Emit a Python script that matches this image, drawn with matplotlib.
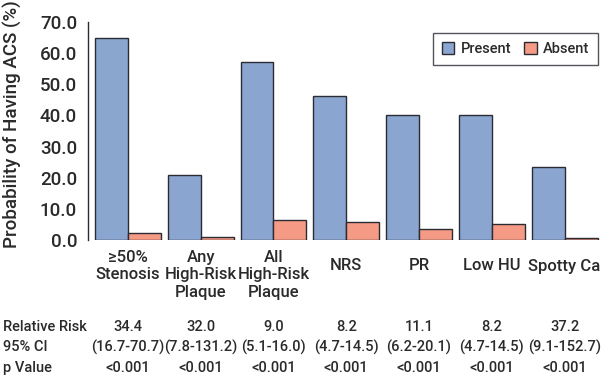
import matplotlib
matplotlib.use("Agg")
import matplotlib.pyplot as plt
import matplotlib.transforms as mtransforms
import numpy as np

plt.rcParams['font.family'] = ['Roboto', 'DejaVu Sans']
plt.rcParams['font.weight'] = 500

categories = ["≥50%\nStenosis", "Any\nHigh-Risk\nPlaque", "All\nHigh-Risk\nPlaque",
              "NRS", "PR", "Low HU", "Spotty Ca"]
present = [64.8, 21.0, 57.3, 46.3, 40.2, 40.2, 23.4]
absent = [2.3, 1.0, 6.3, 5.8, 3.6, 5.0, 0.7]
relative_risk = ["34.4", "32.0", "9.0", "8.2", "11.1", "8.2", "37.2"]
ci95 = ["(16.7-70.7)", "(7.8-131.2)", "(5.1-16.0)", "(4.7-14.5)",
        "(6.2-20.1)", "(4.7-14.5)", "(9.1-152.7)"]
p_values = ["<0.001"] * 7
yticks = [0, 10, 20, 30, 40, 50, 60, 70]

blue = "#8AA5D0"
salmon = "#F59A84"
edge = "#2b2b33"
textc = "#2a2a2a"

fig = plt.figure(figsize=(6.11, 3.81), dpi=100)
ax = fig.add_axes([91/611, 1-240/381, (600-91)/611, (240-22)/381])

x = np.arange(len(categories))
w = 0.453
ax.bar(x - w/2, present, width=w, color=blue, edgecolor=edge, linewidth=1.0, label="Present")
ax.bar(x + w/2, absent, width=w, color=salmon, edgecolor=edge, linewidth=1.0, label="Absent")

ax.set_xlim(-0.508, 6.487)
ax.set_ylim(0, 70)
ax.set_yticks(yticks)
ax.set_yticklabels([f"{v:.1f}" for v in yticks])
ax.tick_params(axis='y', length=0, pad=8, labelsize=13.5, labelcolor=textc)
ax.set_xticks([])
for s in ["top", "right", "bottom"]:
    ax.spines[s].set_visible(False)
ax.spines["left"].set_color(edge)
ax.spines["left"].set_linewidth(1.0)
ax.spines["left"].set_position(("outward", 2))

fig.text(12/611, 1-124/381, "Probability of Having ACS (%)", rotation=90,
         fontsize=13.5, color=textc, ha='center', va='center')

leg = ax.legend(loc='upper right', bbox_to_anchor=(0.997, 0.948), ncol=2, fontsize=10.5,
                frameon=True, fancybox=False, edgecolor=edge, handlelength=0.85,
                handleheight=0.85, columnspacing=0.9, handletextpad=0.45,
                borderpad=0.6, borderaxespad=0.0, labelcolor=textc)
leg.get_frame().set_linewidth(1.0)

trans = mtransforms.blended_transform_factory(ax.transData, fig.transFigure)
for i, lab in enumerate(categories):
    if "\n" in lab:
        ax.text(i, 1-250/381, lab, transform=trans, ha='center', va='top',
                fontsize=12, color=textc, linespacing=1.2, clip_on=False)
    else:
        ax.text(i, 1-266/381, lab, transform=trans, ha='center', va='center',
                fontsize=12, color=textc, clip_on=False)

rows = [("Relative Risk", relative_risk, 327), ("95% CI", ci95, 347), ("p Value", p_values, 368)]
for name, vals, ypx in rows:
    fig.text(3/611, 1-ypx/381, name, fontsize=10.5, color=textc, ha='left', va='center')
    for i, v in enumerate(vals):
        ax.text(i, 1-ypx/381, v, transform=trans, ha='center', va='center',
                fontsize=10.5, color=textc, clip_on=False)

fig.savefig("out.png", dpi=100, facecolor="white")
